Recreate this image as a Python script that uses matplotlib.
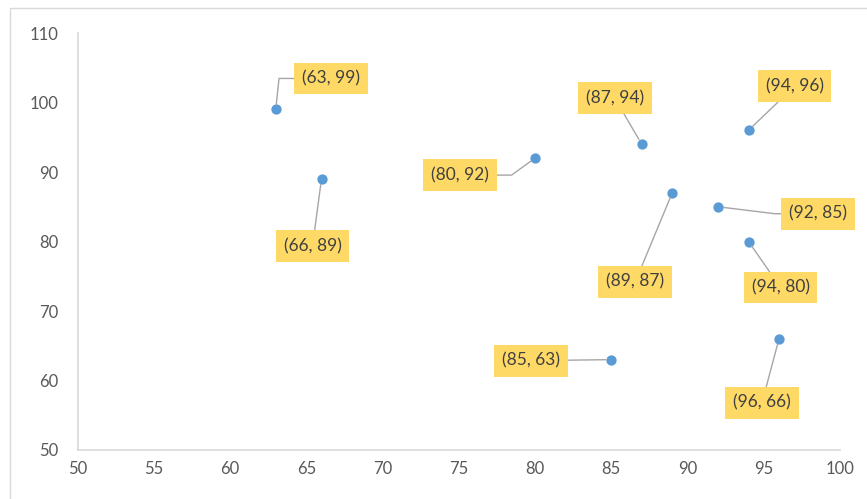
import matplotlib
matplotlib.use("Agg")
import matplotlib.pyplot as plt
from matplotlib.patches import Rectangle

plt.rcParams['font.family'] = ['Lato', 'DejaVu Sans']

# scatter data
x_vals = [63, 66, 80, 87, 94, 89, 92, 94, 85, 96]
y_vals = [99, 89, 92, 94, 96, 87, 85, 80, 63, 66]

# label placement: offset of the label centre from its point (pixels, y up)
label_dx = [55, -9, -75, -27, 46, -37, 100, 32, -80, -17]
label_dy = [31, -67, -17, 46, 44, -89, -7, -46, -1, -64]
# leader shape: None = straight line, otherwise angle of the slanted leg
leader_angle = [84, None, 36, None, None, None, -7, None, None, None]

x_ticks = list(range(50, 101, 5))
y_ticks = list(range(50, 111, 10))

blue = '#5B9BD5'
gold = '#FFD966'
grey_line = '#D9D9D9'
tick_grey = '#595959'

fig = plt.figure(figsize=(8.67, 4.99), dpi=100)
ax = fig.add_axes([77.5 / 867, 49 / 499, (840 - 77.5) / 867, (450 - 33) / 499])

# outer chart border
fig.patches.append(Rectangle((10 / 867, -0.5), 2, 1.5 - 8 / 499, transform=fig.transFigure,
                             fill=False, edgecolor=grey_line, linewidth=1.0, zorder=0))

ax.scatter(x_vals, y_vals, s=55, color=blue, zorder=3, linewidths=0)

for x, y, dx, dy, ang in zip(x_vals, y_vals, label_dx, label_dy, leader_angle):
    if ang is None:
        conn = 'arc3'
    else:
        conn = 'angle,angleA=0,angleB=%d,rad=0' % ang
    ax.annotate('(%d, %d)' % (x, y), xy=(x, y), xytext=(dx, dy), textcoords='offset pixels',
                ha='center', va='center', fontsize=12.5, color='#404040',
                bbox=dict(boxstyle='square,pad=0.45', facecolor=gold, edgecolor='none'),
                arrowprops=dict(arrowstyle='-', color='#A6A6A6', linewidth=1.0,
                                connectionstyle=conn, shrinkA=0, shrinkB=4),
                zorder=4)

ax.set_xlim(50, 100)
ax.set_ylim(50, 110)
ax.set_xticks(x_ticks)
ax.set_yticks(y_ticks)
ax.tick_params(length=0, colors=tick_grey, labelsize=12)
ax.tick_params(axis='y', pad=14)
ax.tick_params(axis='x', pad=8)

for side in ['top', 'right']:
    ax.spines[side].set_visible(False)
for side in ['left', 'bottom']:
    ax.spines[side].set_color(grey_line)
    ax.spines[side].set_linewidth(1.2)

fig.savefig('out.png', dpi=100, facecolor='white')
